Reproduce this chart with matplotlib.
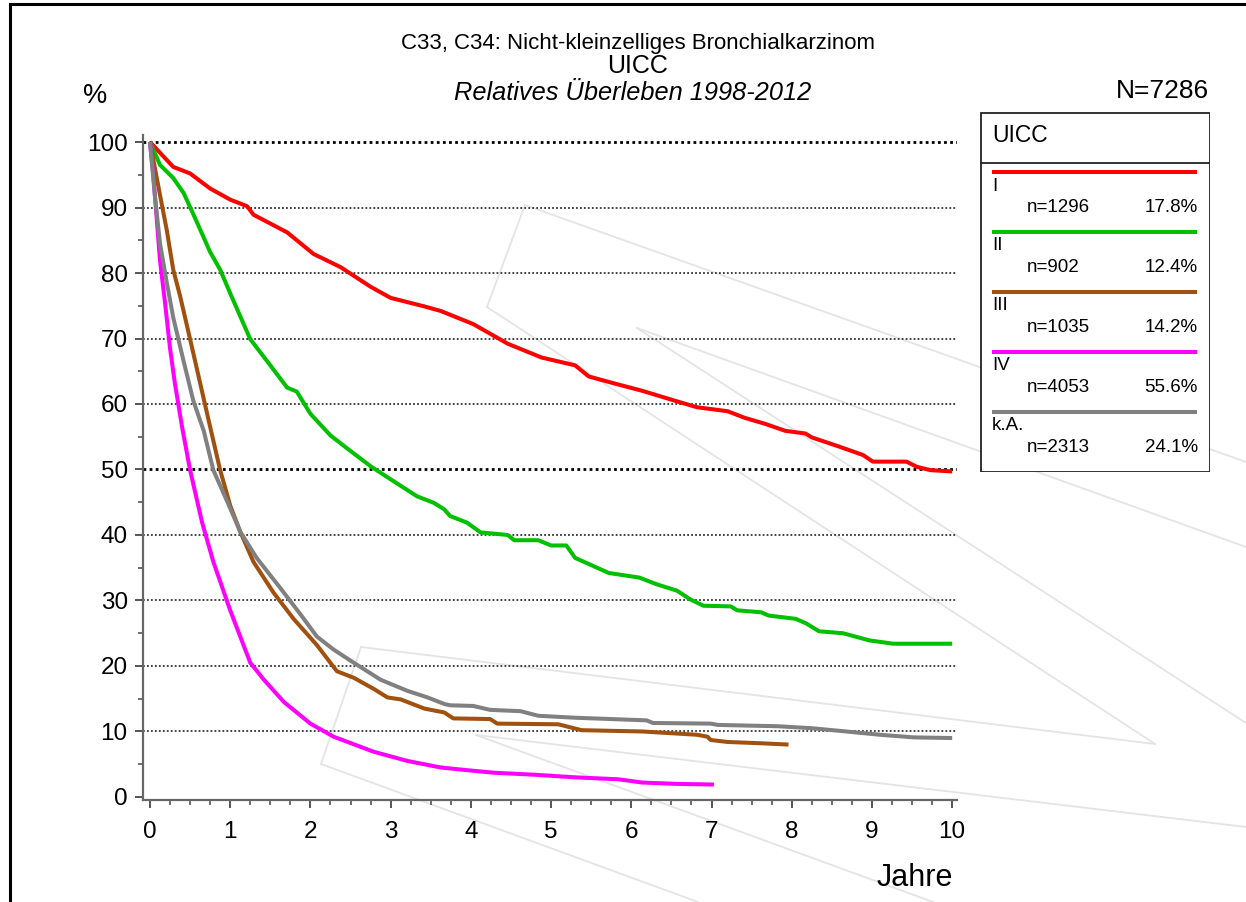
import matplotlib
matplotlib.use("Agg")
import matplotlib.pyplot as plt
from matplotlib.lines import Line2D
from matplotlib.patches import Rectangle

plt.rcParams['font.family'] = ['Liberation Sans', 'DejaVu Sans']

# ---------------- data ----------------
stages = ["I", "II", "III", "IV", "k.A."]
counts = ["n=1296", "n=902", "n=1035", "n=4053", "n=2313"]
shares = ["17.8%", "12.4%", "14.2%", "55.6%", "24.1%"]
colors = ["#ff0000", "#00c000", "#a0500f", "#ff00ff", "#808080"]

t_I = [0, 0.29, 0.5, 0.75, 1.0, 1.21, 1.29, 1.71, 2.04, 2.375, 2.75, 3.0, 3.42, 3.625, 4.03,
       4.46, 4.88, 5.3, 5.47, 5.8, 6.14, 6.57, 6.82, 7.2, 7.41, 7.66, 7.92, 8.17, 8.25, 8.59,
       8.89, 9.01, 9.43, 9.56, 9.73, 10.0]
v_I = [100, 96.2, 95.2, 92.9, 91.2, 90.2, 88.9, 86.2, 82.9, 80.9, 77.9, 76.2, 74.9, 74.2, 72.2,
       69.2, 67.1, 65.9, 64.2, 63.1, 62.0, 60.4, 59.5, 58.9, 57.9, 57.0, 55.9, 55.5, 54.9, 53.5,
       52.2, 51.2, 51.2, 50.4, 49.9, 49.7]

t_II = [0, 0.125, 0.29, 0.42, 0.58, 0.75, 0.875, 1.0, 1.25, 1.5, 1.71, 1.83, 2.0, 2.25, 2.46,
        2.75, 3.0, 3.33, 3.54, 3.67, 3.74, 3.95, 4.12, 4.46, 4.54, 4.84, 5.0, 5.19, 5.3, 5.72,
        6.1, 6.31, 6.57, 6.73, 6.9, 7.24, 7.32, 7.62, 7.71, 8.05, 8.18, 8.34, 8.64, 8.97, 9.27, 10.0]
v_II = [100, 96.5, 94.5, 92.2, 87.9, 83.2, 80.5, 76.9, 69.9, 65.9, 62.5, 61.9, 58.5, 55.2, 53.2,
        50.5, 48.5, 45.9, 44.9, 43.9, 42.9, 41.9, 40.4, 40.0, 39.2, 39.2, 38.4, 38.4, 36.5, 34.2,
        33.5, 32.5, 31.5, 30.2, 29.2, 29.1, 28.5, 28.2, 27.7, 27.2, 26.5, 25.3, 25.0, 23.9, 23.4, 23.4]

t_III = [0, 0.125, 0.21, 0.29, 0.375, 0.5, 0.625, 0.75, 0.875, 1.0, 1.125, 1.29, 1.54, 1.79,
         2.08, 2.33, 2.54, 2.79, 2.96, 3.125, 3.42, 3.67, 3.78, 4.24, 4.33, 5.09, 5.38, 6.14,
         6.82, 6.95, 6.99, 7.2, 7.62, 7.96]
v_III = [100, 91.9, 86.5, 80.5, 76.5, 69.9, 63.2, 56.5, 49.9, 44.5, 40.5, 35.9, 31.2, 27.2,
         23.2, 19.2, 18.2, 16.5, 15.2, 14.9, 13.5, 12.9, 12.0, 11.9, 11.2, 11.1, 10.2, 10.0,
         9.5, 9.2, 8.7, 8.4, 8.2, 8.0]

t_IV = [0, 0.04, 0.083, 0.125, 0.19, 0.25, 0.31, 0.4, 0.5, 0.65, 0.79, 1.0, 1.25, 1.42, 1.67,
        2.0, 2.29, 2.79, 3.21, 3.625, 4.03, 4.29, 4.79, 5.3, 5.84, 6.14, 6.57, 7.03]
v_IV = [100, 95.2, 88.5, 81.9, 75.2, 68.5, 63.2, 56.5, 49.9, 41.9, 35.9, 28.5, 20.5, 17.9, 14.5,
        11.2, 9.2, 6.9, 5.5, 4.5, 4.0, 3.7, 3.4, 3.0, 2.7, 2.2, 2.0, 1.9]

t_KA = [0, 0.06, 0.125, 0.21, 0.29, 0.42, 0.54, 0.67, 0.79, 0.96, 1.125, 1.33, 1.625, 1.875,
        2.08, 2.29, 2.54, 2.875, 3.21, 3.46, 3.67, 3.74, 4.03, 4.24, 4.62, 4.84, 5.3, 6.19,
        6.27, 6.99, 7.08, 7.83, 8.25, 8.68, 9.1, 9.52, 10.0]
v_KA = [100, 91.9, 84.5, 78.5, 73.2, 66.5, 60.5, 55.9, 49.9, 45.2, 40.5, 36.5, 31.9, 27.9,
        24.5, 22.5, 20.5, 17.9, 16.2, 15.2, 14.2, 14.0, 13.9, 13.3, 13.1, 12.4, 12.1, 11.7,
        11.3, 11.2, 11.0, 10.8, 10.5, 10.0, 9.5, 9.1, 9.0]

series_t = [t_I, t_II, t_III, t_IV, t_KA]
series_v = [v_I, v_II, v_III, v_IV, v_KA]

x_major = list(range(0, 11))
y_major = list(range(0, 101, 10))

title1 = "C33, C34: Nicht-kleinzelliges Bronchialkarzinom"
title2 = "UICC"
title3 = "Relatives Überleben 1998-2012"
total = "N=7286"

# ---------------- figure ----------------
W, H = 1246, 902
fig = plt.figure(figsize=(W / 100, H / 100), dpi=100)
fig.patch.set_facecolor("white")

def px(x, y):
    return (x / W, 1 - y / H)

# faint watermark logo lines (background decoration)
wm = [((525, 205), (1246, 462)), ((525, 205), (487, 307)), ((487, 307), (1155, 744)),
      ((637, 328), (1246, 723)), ((637, 328), (1246, 547)), ((361, 647), (1155, 744)),
      ((361, 647), (321, 764)), ((321, 764), (698, 902)), ((476, 735), (1246, 827)),
      ((476, 735), (933, 902))]
for (a, b) in wm:
    pa, pb = px(*a), px(*b)
    fig.add_artist(Line2D([pa[0], pb[0]], [pa[1], pb[1]], transform=fig.transFigure,
                          color="#e4e4e4", lw=1.3, zorder=-5))

# page border (top and left)
fig.add_artist(Line2D([10 / W, 1], [1 - 4 / H, 1 - 4 / H], transform=fig.transFigure,
                      color="black", lw=2.2, zorder=10))
fig.add_artist(Line2D([10 / W, 10 / W], [0, 1 - 4 / H], transform=fig.transFigure,
                      color="black", lw=2.2, zorder=10))

# main axes
left, right, top, bottom = 143, 957, 135, 800
ax = fig.add_axes([left / W, 1 - bottom / H, (right - left) / W, (bottom - top) / H])
ax.patch.set_alpha(0)
ax.set_xlim(-0.087, 10.06)
ax.set_ylim(-0.46, 101.07)

for v in y_major[1:]:
    if v in (50, 100):
        ax.axhline(v, color="black", lw=2.0, ls=(0, (1, 1.2)), zorder=1)
    else:
        ax.axhline(v, color="#333333", lw=1.3, ls=(0, (1, 1.2)), zorder=1)

for t, v, c in zip(series_t, series_v, colors):
    ax.plot(t, v, color=c, lw=2.9, solid_joinstyle="round", solid_capstyle="butt", zorder=3)

for s in ("top", "right"):
    ax.spines[s].set_visible(False)
for s in ("left", "bottom"):
    ax.spines[s].set_color("#666666")
    ax.spines[s].set_linewidth(1.6)

ax.set_xticks(x_major)
ax.set_xticks([i * 0.25 for i in range(41)], minor=True)
ax.set_yticks(y_major)
ax.set_yticks(list(range(5, 100, 10)), minor=True)
ax.tick_params(axis="both", which="major", length=6, width=1.4, color="#555555",
               labelsize=17.5, labelcolor="black")
ax.tick_params(axis="both", which="minor", length=3.5, width=1.2, color="#555555")
ax.tick_params(axis="x", which="major", pad=9)
ax.tick_params(axis="y", which="major", pad=5)

# titles and labels
fig.text(*px(638, 43), title1, ha="center", va="center", fontsize=16)
fig.text(*px(638, 66), title2, ha="center", va="center", fontsize=18)
fig.text(*px(633, 93), title3, ha="center", va="center", fontsize=18.3, style="italic")
fig.text(*px(1209, 91), total, ha="right", va="center", fontsize=19)
fig.text(*px(95, 96), "%", ha="center", va="center", fontsize=19.5)
fig.text(*px(953, 878), "Jahre", ha="right", va="center", fontsize=22)

# legend box
lx0, ly0, lw_, lh_ = 980, 112, 230, 360
lg = fig.add_axes([lx0 / W, 1 - (ly0 + lh_) / H, lw_ / W, lh_ / H])
lg.set_xlim(0, lw_)
lg.set_ylim(lh_, 0)
lg.axis("off")
lg.add_patch(Rectangle((0.5, 0.5), lw_ - 1, lh_ - 1, fill=True, facecolor="white",
                       edgecolor="#222222", lw=1.3))
lg.plot([0, lw_], [51, 51], color="#222222", lw=1.3)
lg.text(12, 23, "UICC", ha="left", va="center", fontsize=16.5)
for i, (s, n, p, c) in enumerate(zip(stages, counts, shares, colors)):
    y0 = 60 + 60 * i
    lg.plot([12, 217], [y0, y0], color=c, lw=2.9, solid_capstyle="butt")
    lg.text(12, y0 + 14, s, ha="left", va="center", fontsize=13.5)
    lg.text(47, y0 + 35, n, ha="left", va="center", fontsize=13.5)
    lg.text(218, y0 + 35, p, ha="right", va="center", fontsize=13.5)

fig.savefig("out.png", dpi=100)
